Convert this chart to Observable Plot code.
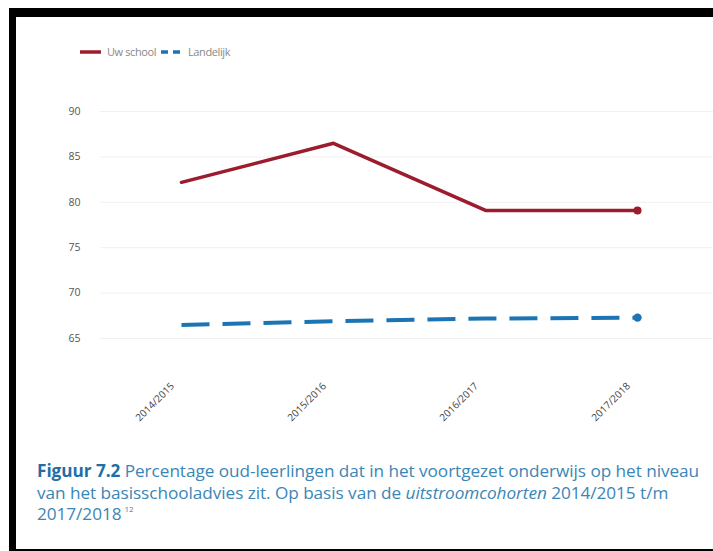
<!DOCTYPE html>
<html>
<head>
<meta charset="utf-8">
<script src="https://cdn.jsdelivr.net/npm/d3@7"></script>
<script src="https://cdn.jsdelivr.net/npm/@observablehq/plot@0.6"></script>
<style>
  html, body { margin: 0; padding: 0; background: #fff; }
  #page { position: relative; width: 713px; height: 551px; overflow: hidden; background: #fff; font-family: "Open Sans", sans-serif; }
  #frame { position: absolute; left: 9px; top: 8px; width: 720px; height: 532px; border-top: 9px solid #000; border-left: 7px solid #000; border-bottom: 2px solid #000; box-sizing: content-box; }
  #legend { position: absolute; top: 43px; left: 80px; height: 18px; font-size: 11px; color: #888; font-family: "Open Sans", sans-serif; letter-spacing: -0.4px; }
  #legend .item { position: absolute; top: 0; white-space: nowrap; line-height: 18px; }
  #legend svg { position: absolute; top: 0; }
  #chart { position: absolute; left: 0; top: 70px; }
  #caption { position: absolute; left: 37px; top: 460px; font-size: 17.2px; line-height: 21.5px; color: #3a86b6; font-family: "Open Sans", sans-serif; white-space: nowrap; letter-spacing: -0.05px; }
  #caption b { color: #1f6fa6; font-weight: 700; }
  #caption sup { font-size: 8px; line-height: 0; vertical-align: baseline; position: relative; top: -8px; margin-left: 3px; }
</style>
</head>
<body>
<div id="page">
  <div id="frame"></div>
  <div id="legend"></div>
  <div id="chart"></div>
  <div id="caption"></div>
</div>
<script>
const cohorts = ["2014/2015", "2015/2016", "2016/2017", "2017/2018"];
const uwSchool = [82.2, 86.5, 79.1, 79.1];
const landelijk = [66.5, 66.9, 67.2, 67.3];
const yTicks = [65, 70, 75, 80, 85, 90];
const seriesNames = ["Uw school", "Landelijk"];
const seriesColors = ["#9b1c2c", "#1c74b4"];

const rowsSchool = cohorts.map((c, i) => ({cohort: c, value: uwSchool[i]}));
const rowsLand = cohorts.map((c, i) => ({cohort: c, value: landelijk[i]}));
const lastCohort = cohorts[cohorts.length - 1];

// Legend
const legend = document.getElementById("legend");
legend.innerHTML = `
  <svg width="22" height="18" style="left:0px"><line x1="0" x2="21" y1="9" y2="9" stroke="${seriesColors[0]}" stroke-width="3.5"/></svg>
  <span class="item" style="left:27px">${seriesNames[0]}</span>
  <svg width="24" height="18" style="left:81px"><line x1="0" x2="22" y1="9" y2="9" stroke="${seriesColors[1]}" stroke-width="3.5" stroke-dasharray="7,5"/></svg>
  <span class="item" style="left:108px">${seriesNames[1]}</span>`;

const plot = Plot.plot({
  width: 713,
  height: 370,
  marginLeft: 100,
  marginRight: 0,
  marginTop: 41,
  marginBottom: 102,
  style: {fontFamily: "Open Sans, sans-serif", background: "transparent"},
  x: {type: "point", domain: cohorts, range: [180, 638], padding: 0, label: null},
  y: {domain: [65, 90], ticks: yTicks, label: null},
  marks: [
    Plot.gridY(yTicks, {stroke: "#e6e6e6", strokeOpacity: 0.6}),
    Plot.axisY(yTicks, {tickSize: 0, tickPadding: 20, fontSize: 10.5, fill: "#555", anchor: "left", label: null}),
    Plot.axisX({tickSize: 0, tickRotate: -45, tickPadding: 46, dx: -9, fontSize: 10, fill: "#444", label: null}),
    Plot.line(rowsLand, {x: "cohort", y: "value", stroke: seriesColors[1], strokeWidth: 4, strokeDasharray: "28,13", strokeLinecap: "butt"}),
    Plot.line(rowsSchool, {x: "cohort", y: "value", stroke: seriesColors[0], strokeWidth: 3.5}),
    Plot.dot(rowsSchool.filter(d => d.cohort === lastCohort), {x: "cohort", y: "value", r: 4, fill: seriesColors[0]}),
    Plot.dot(rowsLand.filter(d => d.cohort === lastCohort), {x: "cohort", y: "value", r: 4.2, fill: seriesColors[1]})
  ]
});
document.getElementById("chart").appendChild(plot);

document.getElementById("caption").innerHTML =
  `<b>Figuur 7.2</b> Percentage oud-leerlingen dat in het voortgezet onderwijs op het niveau<br>` +
  `van het basisschooladvies zit. Op basis van de <i>uitstroomcohorten</i> 2014/2015 t/m<br>` +
  `2017/2018<sup>12</sup>`;
</script>
</body>
</html>
